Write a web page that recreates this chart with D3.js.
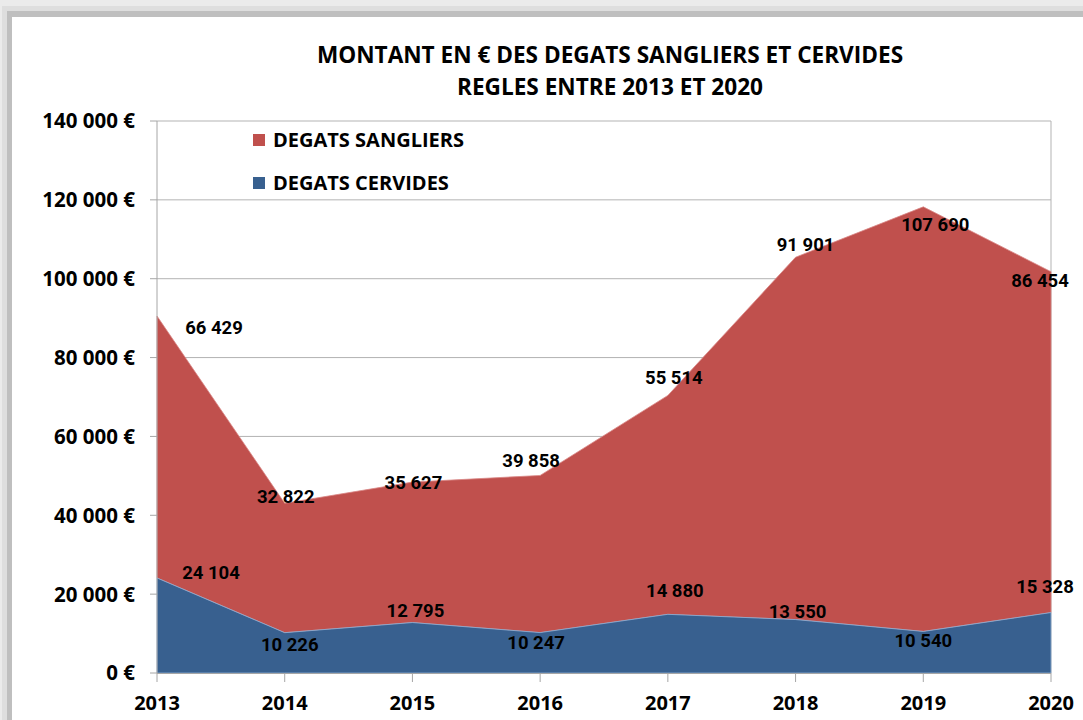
<!DOCTYPE html>
<html>
<head>
<meta charset="utf-8">
<script src="https://cdn.jsdelivr.net/npm/d3@7"></script>
<style>
  body { margin: 0; background: #fff; }
  svg { display: block; }
  text { font-family: "Open Sans", sans-serif; font-weight: bold; fill: #000; }
  .lbl { font-family: Roboto, sans-serif; font-size: 18.5px; }
</style>
</head>
<body>
<div id="chart"></div>
<script>
// data
const years = ["2013", "2014", "2015", "2016", "2017", "2018", "2019", "2020"];
const cervides = [24104, 10226, 12795, 10247, 14880, 13550, 10540, 15328];
const sangliers = [66429, 32822, 35627, 39858, 55514, 91901, 107690, 86454];
const yTicks = [0, 20000, 40000, 60000, 80000, 100000, 120000, 140000];
const seriesNames = ["DEGATS SANGLIERS", "DEGATS CERVIDES"];

// label nudges (px) so they sit like in the original
const nudgeS = [[57, 11], [1, -7], [1, 0], [-9, -15], [6, -18], [10, -13], [12, 18], [-11, 9]];
const nudgeC = [[54, -6], [5, 12], [3, -12], [-4, 10], [7, -24], [2, -8], [0, 9], [-6, -26]];

(function () {
  const width = 1083, height = 720;
  const svg = d3.select("#chart").append("svg")
    .attr("width", width).attr("height", height);

  // frame shadow
  svg.append("rect").attr("width", width).attr("height", height).attr("fill", "#ebebeb");
  svg.append("rect").attr("x", 2).attr("y", 6).attr("width", width).attr("height", height).attr("fill", "#dedede");
  svg.append("rect").attr("x", 7).attr("y", 11).attr("width", width).attr("height", height).attr("fill", "#bfbfbf");
  svg.append("rect").attr("x", 12).attr("y", 17).attr("width", width).attr("height", height).attr("fill", "#fff");

  const left = 157, right = 1051, top = 121, bottom = 673;
  const x = d3.scalePoint().domain(years).range([left, right]);
  const y = d3.scaleLinear().domain([0, 140000]).range([bottom, top]);

  const fmt = v => d3.format(",")(v).replace(/,/g, " ");

  // grid
  svg.append("g").selectAll("line").data(yTicks.slice(1)).enter().append("line")
    .attr("x1", left).attr("x2", right)
    .attr("y1", d => y(d)).attr("y2", d => y(d))
    .attr("stroke", "#b3b3b3").attr("stroke-width", 1);
  svg.append("line").attr("x1", right).attr("x2", right).attr("y1", top).attr("y2", bottom)
    .attr("stroke", "#b3b3b3");

  const rows = years.map((yr, i) => ({ year: yr, cervides: cervides[i], sangliers: sangliers[i] }));
  const stack = d3.stack().keys(["cervides", "sangliers"])(rows);
  const colors = { cervides: "#38608f", sangliers: "#c0504d" };
  const edge = { cervides: "#8fb0d6", sangliers: "#d98886" };

  const area = d3.area()
    .x(d => x(d.data.year))
    .y0(d => y(d[0]))
    .y1(d => y(d[1]));

  svg.append("g").selectAll("path").data(stack.slice().reverse()).enter().append("path")
    .attr("d", area)
    .attr("fill", d => colors[d.key])
    .attr("stroke", d => edge[d.key])
    .attr("stroke-width", 0.8);

  // axes
  svg.append("line").attr("x1", left).attr("x2", left).attr("y1", top).attr("y2", bottom)
    .attr("stroke", "#a6a6a6");
  svg.append("line").attr("x1", left).attr("x2", right).attr("y1", bottom + 0.5).attr("y2", bottom + 0.5)
    .attr("stroke", "#a6a6a6");

  const yg = svg.append("g");
  yg.selectAll("line").data(yTicks).enter().append("line")
    .attr("x1", left - 7).attr("x2", left)
    .attr("y1", d => y(d)).attr("y2", d => y(d))
    .attr("stroke", "#a6a6a6");
  yg.selectAll("text").data(yTicks).enter().append("text")
    .attr("x", 135).attr("y", d => y(d)).attr("dy", "0.36em")
    .attr("text-anchor", "end").style("font-size", "20.5px")
    .text(d => fmt(d) + " €");

  const xg = svg.append("g");
  xg.selectAll("line").data(years).enter().append("line")
    .attr("x1", d => x(d)).attr("x2", d => x(d))
    .attr("y1", bottom).attr("y2", bottom + 9)
    .attr("stroke", "#a6a6a6");
  xg.selectAll("text").data(years).enter().append("text")
    .attr("x", d => x(d)).attr("y", 710)
    .attr("text-anchor", "middle").style("font-size", "20px")
    .text(d => d);

  // data labels
  const lab = svg.append("g");
  lab.selectAll("text.s").data(rows).enter().append("text").attr("class", "lbl s")
    .attr("x", (d, i) => x(d.year) + nudgeS[i][0])
    .attr("y", (d, i) => y(d.cervides + d.sangliers) + nudgeS[i][1])
    .attr("dy", "0.36em").attr("text-anchor", "middle")
    .text(d => fmt(d.sangliers));
  lab.selectAll("text.c").data(rows).enter().append("text").attr("class", "lbl c")
    .attr("x", (d, i) => x(d.year) + nudgeC[i][0])
    .attr("y", (d, i) => y(d.cervides) + nudgeC[i][1])
    .attr("dy", "0.36em").attr("text-anchor", "middle")
    .text(d => fmt(d.cervides));

  // title
  const title = svg.append("text").attr("x", 610).attr("text-anchor", "middle").style("font-size", "22.6px");
  title.append("tspan").attr("x", 610).attr("y", 63).text("MONTANT EN € DES DEGATS SANGLIERS ET CERVIDES");
  title.append("tspan").attr("x", 610).attr("y", 95).text("REGLES ENTRE 2013 ET 2020");

  // legend
  const lg = svg.append("g");
  lg.selectAll("rect").data(seriesNames).enter().append("rect")
    .attr("x", 253).attr("y", (d, i) => 134 + i * 43)
    .attr("width", 12).attr("height", 12)
    .attr("fill", (d, i) => i === 0 ? colors.sangliers : colors.cervides);
  lg.selectAll("text").data(seriesNames).enter().append("text")
    .attr("x", 273).attr("y", (d, i) => 140 + i * 43).attr("dy", "0.36em")
    .style("font-size", "20px")
    .text(d => d);
})();
</script>
</body>
</html>
